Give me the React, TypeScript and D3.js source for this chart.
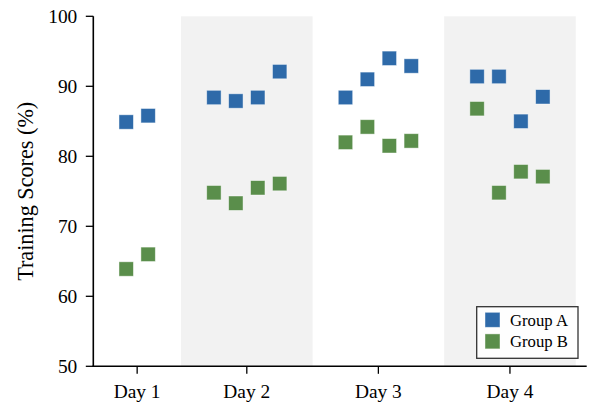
import React from "react";
import * as d3 from "d3";

const days = ["Day 1", "Day 2", "Day 3", "Day 4"];
const groupA = [
  [84.9, 85.8],
  [88.4, 87.9, 88.4, 92.1],
  [88.4, 91.0, 94.0, 92.9],
  [91.4, 91.4, 85.0, 88.5],
];
const groupB = [
  [63.9, 66.0],
  [74.8, 73.3, 75.5, 76.1],
  [82.0, 84.2, 81.5, 82.2],
  [86.8, 74.8, 77.8, 77.1],
];
const yTicks = [50, 60, 70, 80, 90, 100];
const seriesNames = ["Group A", "Group B"];
const colors = ["#2e6aa9", "#5a8e4b"];

const W = 589;
const H = 404;
const left = 93.3;
const right = 586.7;
const top = 16.3;
const bottom = 366.3;
const FONT = "'Liberation Serif', 'Times New Roman', serif";

export default function App() {
  const x = d3.scaleLinear().domain([-1.5, 21]).range([left, right]);
  const y = d3.scaleLinear().domain([50, 100]).range([bottom, top]);

  // positions: each day's points sequential, gap of 2 slots between days
  const starts: number[] = [];
  let acc = 0;
  groupA.forEach((g, i) => {
    starts.push(acc);
    acc += g.length + 2;
  });
  const positions = groupA.map((g, i) => g.map((_, j) => starts[i] + j));
  const tickPos = positions.map((p) => d3.mean(p) as number);

  const ms = 14.4;

  return (
    <div style={{ position: "fixed", left: 0, top: 0 }}>
      <svg width={W} height={H} style={{ display: "block", background: "#fff" }}>
        {/* shaded bands for alternate days */}
        {positions.map((p, i) =>
          i % 2 === 1 ? (
            <rect
              key={"band" + i}
              x={x(p[0] - 1.5)}
              y={top}
              width={x(p[p.length - 1] + 1.5) - x(p[0] - 1.5)}
              height={bottom - top}
              fill="#f2f2f2"
            />
          ) : null
        )}
        {/* points */}
        {[groupA, groupB].map((series, s) =>
          series.map((g, i) =>
            g.map((v, j) => (
              <rect
                key={`p${s}-${i}-${j}`}
                x={x(positions[i][j]) - ms / 2}
                y={y(v) - ms / 2}
                width={ms}
                height={ms}
                fill={colors[s]}
                stroke="#ffffff"
                strokeOpacity={0.55}
                strokeWidth={0.8}
              />
            ))
          )
        )}
        {/* axes */}
        <line x1={left} x2={left} y1={top} y2={bottom + 0.8} stroke="#000" strokeWidth={1.6} />
        <line x1={left - 0.8} x2={right} y1={bottom} y2={bottom} stroke="#000" strokeWidth={1.6} />
        {yTicks.map((t) => (
          <g key={"yt" + t}>
            <line x1={left - 7.5} x2={left} y1={y(t)} y2={y(t)} stroke="#000" strokeWidth={1.3} />
            <text
              x={left - 16}
              y={y(t)}
              dy="0.34em"
              textAnchor="end"
              fontFamily={FONT}
              fontSize={19.4}
              fill="#000"
            >
              {t}
            </text>
          </g>
        ))}
        {days.map((d, i) => (
          <g key={"xt" + d}>
            <line
              x1={x(tickPos[i])}
              x2={x(tickPos[i])}
              y1={bottom}
              y2={bottom + 7.5}
              stroke="#000"
              strokeWidth={1.3}
            />
            <text
              x={x(tickPos[i])}
              y={398}
              textAnchor="middle"
              fontFamily={FONT}
              fontSize={19.4}
              fill="#000"
            >
              {d}
            </text>
          </g>
        ))}
        <text
          transform={`translate(33, ${(top + bottom) / 2}) rotate(-90)`}
          textAnchor="middle"
          fontFamily={FONT}
          fontSize={22.2}
          fill="#000"
        >
          Training Scores (%)
        </text>
        {/* legend */}
        <rect
          x={476.7}
          y={306.7}
          width={101.3}
          height={51.6}
          fill="#ffffff"
          fillOpacity={0.9}
          stroke="#333"
          strokeWidth={1.3}
        />
        {seriesNames.map((n, i) => (
          <g key={"lg" + n}>
            <rect
              x={485}
              y={312.3 + i * 21.6}
              width={15}
              height={15}
              fill={colors[i]}
              stroke="#ffffff"
              strokeOpacity={0.55}
              strokeWidth={0.8}
            />
            <text x={510} y={326 + i * 21.2} fontFamily={FONT} fontSize={16.7} fill="#000">
              {n}
            </text>
          </g>
        ))}
      </svg>
    </div>
  );
}
